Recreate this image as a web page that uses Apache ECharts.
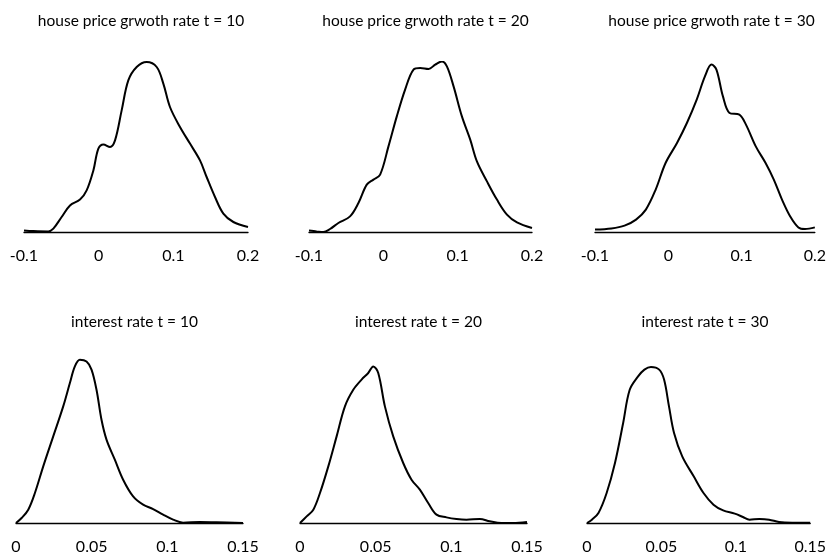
<!DOCTYPE html>
<html>
<head>
<meta charset="utf-8">
<script src="https://cdn.jsdelivr.net/npm/echarts@6/dist/echarts.min.js"></script>
<style>html,body{margin:0;padding:0;background:#fff}#c{width:829px;height:556px}</style>
</head>
<body>
<div id="c"></div>
<script>
// Titles
var titles = ["house price grwoth rate t = 10","house price grwoth rate t = 20","house price grwoth rate t = 30",
              "interest rate t = 10","interest rate t = 20","interest rate t = 30"];
// Axis ranges / ticks
var hpTicks = [-0.1, 0, 0.1, 0.2];
var irTicks = [0, 0.05, 0.1, 0.15];

// Density curves: [value, density]
var hp10 = [[-0.1,0.08],[-0.0875,0.05],[-0.0674,0.03],[-0.0607,0.17],[-0.0496,0.75],[-0.0384,1.33],[-0.025,1.62],[-0.0161,2.08],[-0.0071,3.08],[-0.0004,4.17],[0.0063,4.38],[0.0152,4.25],[0.0219,4.58],[0.0308,6.08],[0.0397,7.58],[0.0509,8.25],[0.0643,8.5],[0.0777,8.25],[0.0866,7.42],[0.0955,6.25],[0.1089,5.25],[0.1223,4.42],[0.1357,3.58],[0.1446,2.75],[0.1558,1.75],[0.167,0.92],[0.1804,0.5],[0.2,0.25]];
var hp20 = [[-0.1,0.07],[-0.0897,0.03],[-0.0807,0],[-0.0717,0.15],[-0.0605,0.45],[-0.0448,0.78],[-0.0335,1.45],[-0.0223,2.37],[-0.0133,2.62],[-0.0043,2.87],[0.0069,4.28],[0.0181,5.78],[0.0293,7.12],[0.0406,8.12],[0.0496,8.2],[0.0608,8.15],[0.0698,8.37],[0.0788,8.53],[0.0855,8.28],[0.0945,7.28],[0.1057,5.78],[0.1169,4.62],[0.1259,3.53],[0.1394,2.53],[0.1528,1.62],[0.1663,0.87],[0.1798,0.48],[0.2,0.2]];
var hp30 = [[-0.1,0.12],[-0.0776,0.18],[-0.0597,0.32],[-0.044,0.62],[-0.0306,1.12],[-0.0172,2.12],[-0.0037,3.45],[0.0119,4.45],[0.0254,5.45],[0.0388,6.62],[0.05,7.78],[0.059,8.37],[0.0657,8.12],[0.0746,6.78],[0.0836,5.95],[0.097,5.87],[0.106,5.37],[0.1194,4.28],[0.1328,3.45],[0.144,2.62],[0.1552,1.62],[0.1664,0.78],[0.1776,0.23],[0.1866,0.15],[0.2,0.23]];
var ir10 = [[0,0],[0.0037,0.83],[0.0081,2.22],[0.0125,5],[0.018,9.44],[0.0246,14.44],[0.0312,19.44],[0.0356,23.33],[0.0389,26.1],[0.0422,27.2],[0.0466,26.9],[0.0499,25.56],[0.0532,22.2],[0.0565,17.2],[0.0598,13.9],[0.0653,10.56],[0.0708,7.22],[0.0774,4.44],[0.084,3.06],[0.0906,2.33],[0.0972,1.39],[0.1038,0.56],[0.1104,0.06],[0.1214,0.17],[0.1324,0.11],[0.15,0]];
var ir20 = [[0,0],[0.0044,1.11],[0.0088,2.22],[0.0132,5],[0.0187,9.44],[0.0242,14.44],[0.0297,19.44],[0.0352,22.2],[0.0407,23.9],[0.0451,25],[0.0484,26.1],[0.0517,25],[0.0561,19.44],[0.0616,14.44],[0.0682,10],[0.0737,7.22],[0.0792,5.56],[0.0847,3.33],[0.0902,1.39],[0.0968,0.94],[0.1034,0.67],[0.11,0.56],[0.1188,0.67],[0.1254,0.28],[0.1331,0],[0.1408,0],[0.15,0.17]];
var ir30 = [[0,0],[0.0033,0.56],[0.0077,1.67],[0.0132,5],[0.0188,10],[0.0243,16.67],[0.0287,22.2],[0.0342,24.4],[0.0386,25.56],[0.043,26],[0.0485,25.56],[0.0518,23.9],[0.0551,19.44],[0.0585,15],[0.064,11.1],[0.0717,7.78],[0.0783,5],[0.085,3.06],[0.0915,2.11],[0.0993,1.56],[0.1048,1],[0.1092,0.56],[0.1158,0.67],[0.1224,0.56],[0.129,0.17],[0.1379,0.06],[0.15,0.06]];

var curves = [hp10, hp20, hp30, ir10, ir20, ir30];

var FONT = 'Lato';
var grids = [
  {left:24, top:62, width:224, height:170},
  {left:309, top:62, width:223, height:170},
  {left:595, top:62, width:223, height:170},
  {left:16, top:358, width:227, height:165},
  {left:300, top:358, width:227, height:165},
  {left:587, top:358, width:226, height:165}
];
var titleY = [8, 8, 8, 309, 309, 309];

var chart = echarts.init(document.getElementById('c'), null, {renderer:'canvas'});
var option = {
  animation:false,
  backgroundColor:'#fff',
  title: titles.map(function(t,i){
    return {text:t, left: grids[i].left + grids[i].width/2, top: titleY[i], textAlign:'center',
      textStyle:{fontFamily:FONT, fontSize:15.5, fontWeight:'normal', color:'#000'}};
  }),
  grid: grids,
  xAxis: grids.map(function(g,i){
    var t = i < 3 ? hpTicks : irTicks;
    return {type:'value', gridIndex:i, min:t[0], max:t[t.length-1], interval:t[1]-t[0],
      axisLine:{show:true, onZero:false, lineStyle:{color:'#000', width:1.3}},
      axisTick:{show:false}, splitLine:{show:false},
      axisLabel:{color:'#000', fontFamily:FONT, fontSize:16, margin:16, showMinLabel:true, showMaxLabel:true}};
  }),
  yAxis: grids.map(function(g,i){
    return {type:'value', gridIndex:i, min:0, max: i < 3 ? 8.5 : 27.5, show:false, splitLine:{show:false}};
  }),
  series: curves.map(function(d,i){
    return {type:'line', xAxisIndex:i, yAxisIndex:i, data:d, smooth:0.35, showSymbol:false, symbol:'none',
      lineStyle:{color:'#000', width:2}};
  })
};
chart.setOption(option);
</script>
</body>
</html>
